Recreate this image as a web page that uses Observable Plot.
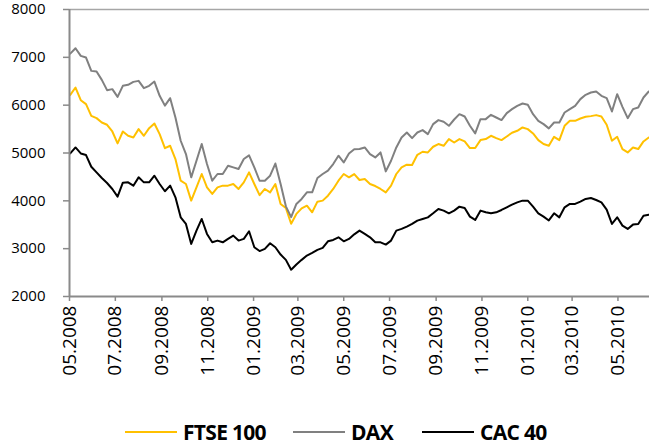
<!DOCTYPE html>
<html>
<head>
<meta charset="utf-8">
<script src="https://cdn.jsdelivr.net/npm/d3@7"></script>
<script src="https://cdn.jsdelivr.net/npm/@observablehq/plot@0.6"></script>
<style>
  body { margin: 0; background: #fff; font-family: "Open Sans", sans-serif; }
  #wrap { position: relative; width: 649px; height: 446px; overflow: hidden; }
  #wrap svg { position: absolute; left: 0; top: 0; }
  .legend { position: absolute; left: 0; top: 414px; width: 649px; height: 36px; }
  .item { position: absolute; top: 0; height: 36px; display: flex; align-items: center; }
  .swatch { width: 52px; height: 2.5px; margin-right: 6px; }
  .lab { font-family: "Open Sans", sans-serif; font-weight: 700; font-size: 21px; letter-spacing: -0.7px; color: #000; white-space: nowrap; }
</style>
</head>
<body>
<div id="wrap"></div>
<script>
// ---- data (weekly readings) ----
const dates = [
  "2008-05-02","2008-05-09","2008-05-16","2008-05-23","2008-05-30","2008-06-06","2008-06-13","2008-06-20","2008-06-27","2008-07-04",
  "2008-07-11","2008-07-18","2008-07-25","2008-08-01","2008-08-08","2008-08-15","2008-08-22","2008-08-29","2008-09-05","2008-09-12",
  "2008-09-19","2008-09-26","2008-10-03","2008-10-10","2008-10-17","2008-10-24","2008-10-31","2008-11-07","2008-11-14","2008-11-21",
  "2008-11-28","2008-12-05","2008-12-12","2008-12-19","2008-12-26","2009-01-02","2009-01-09","2009-01-16","2009-01-23","2009-01-30",
  "2009-02-06","2009-02-13","2009-02-20","2009-02-27","2009-03-06","2009-03-13","2009-03-20","2009-03-27","2009-04-03","2009-04-10",
  "2009-04-17","2009-04-24","2009-05-01","2009-05-08","2009-05-15","2009-05-22","2009-05-29","2009-06-05","2009-06-12","2009-06-19",
  "2009-06-26","2009-07-03","2009-07-10","2009-07-17","2009-07-24","2009-07-31","2009-08-07","2009-08-14","2009-08-21","2009-08-28",
  "2009-09-04","2009-09-11","2009-09-18","2009-09-25","2009-10-02","2009-10-09","2009-10-16","2009-10-23","2009-10-30","2009-11-06",
  "2009-11-13","2009-11-20","2009-11-27","2009-12-04","2009-12-11","2009-12-18","2009-12-25","2010-01-01","2010-01-08","2010-01-15",
  "2010-01-22","2010-01-29","2010-02-05","2010-02-12","2010-02-19","2010-02-26","2010-03-05","2010-03-12","2010-03-19","2010-03-26",
  "2010-04-02","2010-04-09","2010-04-16","2010-04-23","2010-04-30","2010-05-07","2010-05-14","2010-05-21","2010-05-28","2010-06-04",
  "2010-06-11"
];
const ftse = [
  6216,6369,6104,6021,5777,5729,5638,5590,5450,5200,
  5450,5360,5325,5499,5360,5520,5617,5395,5100,5151,
  4874,4421,4352,4004,4282,4561,4282,4143,4282,4317,
  4317,4352,4248,4386,4595,4352,4120,4248,4177,4352,
  3935,3851,3520,3726,3843,3899,3760,3983,4004,4108,
  4248,4421,4561,4491,4560,4436,4456,4352,4310,4248,
  4177,4317,4561,4699,4755,4749,4963,5026,5012,5131,
  5187,5151,5291,5220,5291,5242,5103,5103,5270,5291,
  5360,5311,5270,5346,5423,5464,5534,5499,5409,5270,
  5187,5151,5339,5270,5569,5673,5673,5722,5757,5771,
  5792,5763,5590,5256,5339,5082,5012,5116,5082,5242,
  5325
];
const dax = [
  7078,7190,7030,6995,6717,6703,6529,6314,6335,6174,
  6404,6425,6487,6508,6355,6404,6494,6195,5990,6146,
  5742,5256,4978,4491,4838,5187,4769,4421,4561,4561,
  4734,4699,4665,4874,4950,4700,4420,4421,4525,4780,
  4352,3885,3660,3935,4039,4177,4177,4477,4561,4630,
  4769,4943,4803,4991,5080,5082,5116,4978,4908,5012,
  4616,4838,5116,5325,5429,5311,5429,5479,5395,5604,
  5688,5652,5569,5700,5812,5763,5569,5409,5708,5708,
  5798,5742,5688,5833,5917,5986,6034,6007,5812,5673,
  5604,5515,5638,5638,5847,5917,5986,6126,6216,6264,
  6285,6195,6146,5868,6230,5965,5729,5917,5951,6160,
  6285
];
const cac = [
  4991,5116,4991,4957,4713,4595,4477,4373,4248,4087,
  4379,4386,4317,4491,4386,4386,4525,4352,4200,4317,
  4073,3655,3517,3100,3377,3621,3308,3133,3169,3133,
  3204,3273,3169,3204,3363,3029,2950,2995,3112,3029,
  2877,2766,2560,2668,2766,2856,2912,2975,3016,3154,
  3183,3238,3154,3204,3300,3377,3308,3238,3133,3133,
  3085,3169,3377,3413,3461,3517,3586,3621,3655,3739,
  3830,3795,3739,3795,3878,3851,3670,3600,3795,3760,
  3739,3760,3809,3864,3920,3968,4004,4004,3878,3739,
  3670,3590,3739,3655,3864,3935,3935,3983,4039,4060,
  4018,3968,3816,3517,3655,3482,3413,3503,3517,3690,
  3711
];
const seriesNames = ["FTSE 100", "DAX", "CAC 40"];
const seriesColors = ["#FFC000", "#808080", "#000000"];
const xTickDates = ["2008-05-01","2008-07-01","2008-09-01","2008-11-01","2009-01-01","2009-03-01",
                    "2009-05-01","2009-07-01","2009-09-01","2009-11-01","2010-01-01","2010-03-01","2010-05-01"];
const yTicks = [2000, 3000, 4000, 5000, 6000, 7000, 8000];
const xStart = "2008-05-01";
const xEnd = "2010-06-12";

// ---- build ----
const parse = d3.utcParse("%Y-%m-%d");
const seriesValues = [ftse, dax, cac];
const rows = [];
seriesNames.forEach((name, s) => {
  dates.forEach((d, i) => rows.push({date: parse(d), value: seriesValues[s][i], series: name}));
});

const axisColor = "#8a8a8a";
const chart = Plot.plot({
  width: 649,
  height: 414,
  marginLeft: 69,
  marginRight: 0,
  marginTop: 9,
  marginBottom: 118,
  style: {fontFamily: "'Open Sans', sans-serif", color: "#000", background: "transparent", overflow: "visible"},
  x: {type: "utc", domain: [parse(xStart), parse(xEnd)]},
  y: {domain: [2000, 8000]},
  color: {domain: seriesNames, range: seriesColors},
  marks: [
    Plot.ruleY([8000], {stroke: "#a6a6a6", strokeWidth: 1.5}),
    Plot.lineY(rows, {x: "date", y: "value", z: "series", stroke: "series", strokeWidth: 2, strokeLinejoin: "round"}),
    Plot.ruleX([parse(xStart)], {stroke: axisColor, strokeWidth: 2}),
    Plot.ruleY([2000], {stroke: axisColor, strokeWidth: 2}),
    Plot.axisY({ticks: yTicks, tickFormat: d => String(d), tickSize: 6, tickPadding: 18,
                fontSize: 15, stroke: axisColor, strokeWidth: 1.5, fill: "#000", label: null}),
    Plot.axisX({ticks: xTickDates.map(parse), tickFormat: d3.utcFormat("%m.%Y"), tickRotate: -90,
                tickSize: 5, tickPadding: 4, fontSize: 19, stroke: axisColor, strokeWidth: 1.5,
                fill: "#000", label: null})
  ]
});
const wrap = document.getElementById("wrap");
wrap.appendChild(chart);

// ---- legend ----
const legend = document.createElement("div");
legend.className = "legend";
const legendLeft = [125, 293, 422];
seriesNames.forEach((name, i) => {
  const item = document.createElement("div");
  item.className = "item";
  item.style.left = legendLeft[i] + "px";
  const sw = document.createElement("div");
  sw.className = "swatch";
  sw.style.background = seriesColors[i];
  const lab = document.createElement("span");
  lab.className = "lab";
  lab.textContent = name;
  item.appendChild(sw);
  item.appendChild(lab);
  legend.appendChild(item);
});
wrap.appendChild(legend);
</script>
</body>
</html>
